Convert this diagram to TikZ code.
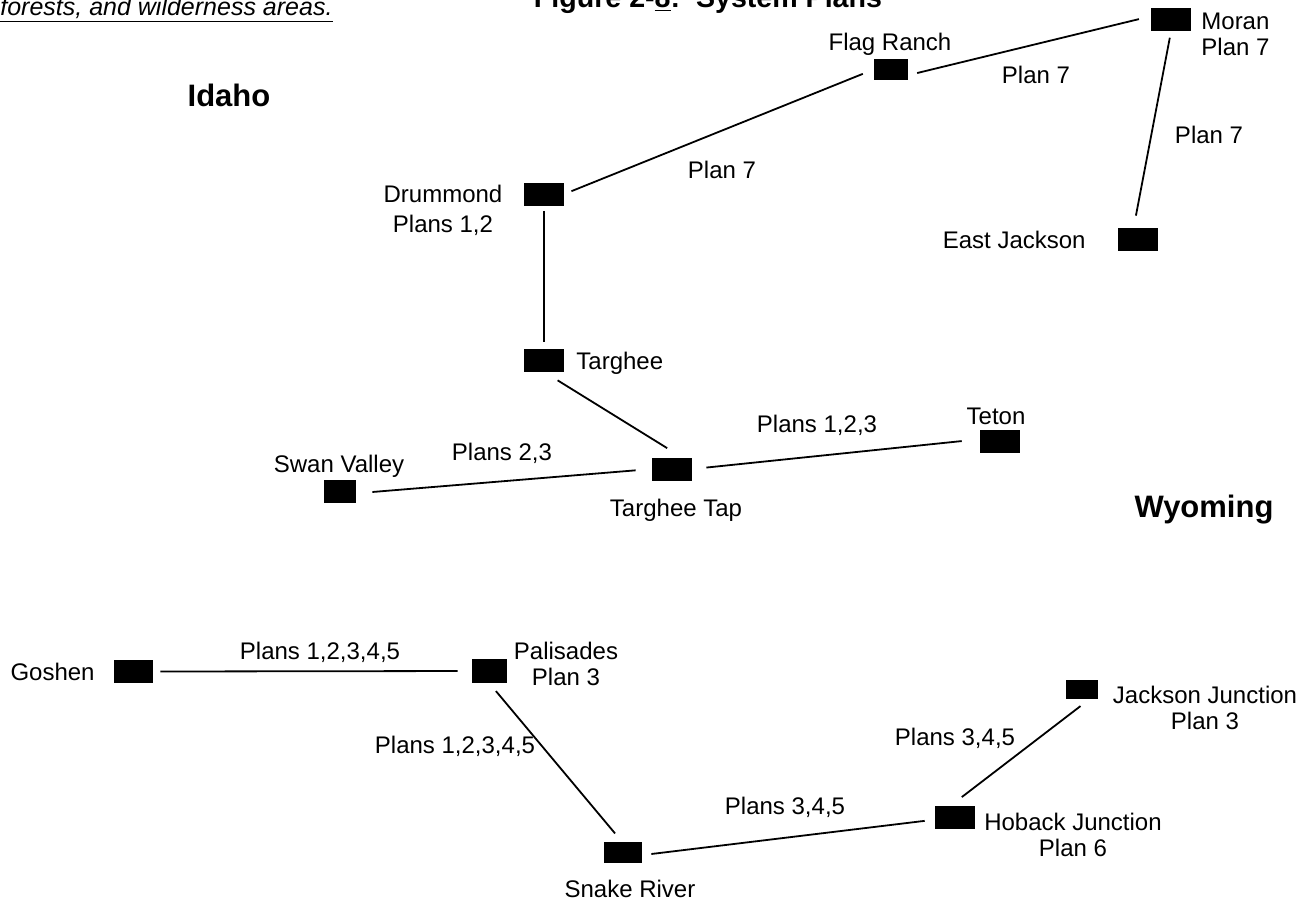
\documentclass[tikz,border=0pt]{standalone}
\usepackage{fontspec}
\setmainfont{Liberation Sans}

\tikzset{
  station/.style={fill=black, inner sep=0pt},
  link/.style={line width=0.9pt},
  lbl/.style={inner sep=0pt, font=\fontsize{12}{13}\selectfont, text height=8.6pt, text depth=0pt},
  lbltwo/.style={inner sep=0pt, font=\fontsize{12}{13}\selectfont},
  region/.style={inner sep=0pt, font=\bfseries\fontsize{15.5}{18}\selectfont, text height=11pt, text depth=0pt}
}

\begin{document}
\begin{tikzpicture}[x=0.5pt,y=-0.5pt]
\useasboundingbox (0,0) rectangle (1316,900);
\clip (0,0) rectangle (1316,900);

\node (note) at (0,15) [anchor=base west, inner sep=0pt, font=\itshape\fontsize{12.5}{14}\selectfont] {\underline{forests, and wilderness areas.}};
\node (title) at (708,7) [anchor=base, inner sep=0pt, font=\bfseries\fontsize{14.3}{16}\selectfont] {Figure 2-\underline{8}:\ \ System Plans};

% stations
\foreach \n/\x/\y/\w/\h in {moran/1171/19.5/20pt/11.5pt, flag/891/69.5/17pt/10.5pt,
	ej/1138/239.3/20pt/11.5pt, drum/544/194/20pt/11.5pt, targ/544/360/20pt/11.5pt,
	tap/672/469/20pt/11.5pt, swan/340/491/16pt/11.5pt, teton/1000/441/20pt/11.5pt,
	goshen/133.5/671.5/19.5pt/11.5pt, pal/489.5/671/17.5pt/12pt, snake/623/852/19pt/10.5pt,
	hoback/955/817.5/20pt/11.5pt, jj/1082/689.5/16pt/9.5pt}
	\node [station, minimum width=\w, minimum height=\h] (\n) at (\x,\y) {};

% lines
\foreach \a/\b/\s/\e in {flag.-18/moran.171/4.5/6, drum.east/flag.west/3.8/5.8,
	moran.south/ej.110/3.2/6, drum.south/targ.north/2.5/3, targ.south/tap.51/8/8.5,
	swan.-8/tap.west/8/8, tap.east/teton.175/7/9, goshen.east/pal.west/3.5/7,
	pal.south/snake.98/5/5, snake.-9/hoback.186/4.5/5, hoback.110/jj.-54/7/5.5}
	\draw [link, shorten <=\s pt, shorten >=\e pt] (\a) -- (\b);

% names
\node (moranlbl) at (1201,34) [lbltwo, anchor=west, align=left] {Moran\\Plan 7};
\node (flaglbl) at (890,42) [lbl] {Flag Ranch};
\node (ejlbl) at (1086,240) [lbl, anchor=east] {East Jackson};
\node (drumlbl) at (443,210.5) [lbltwo, align=center] {Drummond\\[2pt]Plans 1,2};
\node (targlbl) at (576,361) [lbl, anchor=west] {Targhee};
\node (taplbl) at (676,508) [lbl] {Targhee Tap};
\node (swanlbl) at (339,464) [lbl] {Swan Valley};
\node (tetonlbl) at (996,416) [lbl] {Teton};
\node (goshenlbl) at (95,672) [lbl, anchor=east] {Goshen};
\node (pallbl) at (566,664) [lbltwo, align=center] {Palisades\\Plan 3};
\node (snakelbl) at (630,889) [lbl] {Snake River};
\node (hobacklbl) at (1073,835) [lbltwo, align=center] {Hoback Junction\\Plan 6};
\node (jjlbl) at (1205,707.5) [lbltwo, align=center] {Jackson Junction\\Plan 3};

% plans on the lines
\node (pfm) at (1036,75) [lbl] {Plan 7};
\node (pdf) at (722,170) [lbl] {Plan 7};
\node (pme) at (1209,135) [lbl] {Plan 7};
\node (pst) at (502,452) [lbl] {Plans 2,3};
\node (ptt) at (817,424) [lbl] {Plans 1,2,3};
\node (pgp) at (320,651) [lbl] {Plans 1,2,3,4,5};
\node (pps) at (455,745) [lbl] {Plans 1,2,3,4,5};
\node (psh) at (785,806) [lbl] {Plans 3,4,5};
\node (phj) at (955,737) [lbl] {Plans 3,4,5};

\node (idaho) at (229,95) [region] {Idaho};
\node (wyo) at (1204,506) [region] {Wyoming};
\end{tikzpicture}
\end{document}
